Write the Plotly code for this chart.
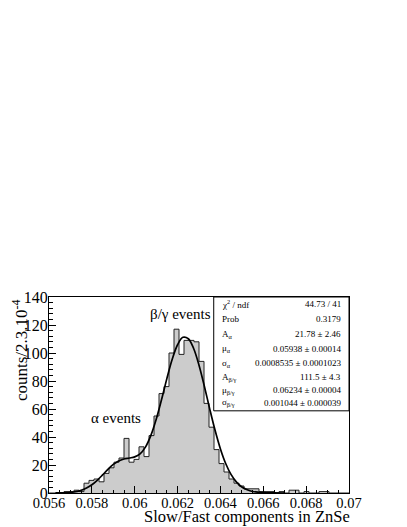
import plotly.graph_objects as go

# ---------------- data ----------------
x_lo, x_hi, n_bins = 0.056, 0.07, 60
counts = [0, 0, 0, 1, 1, 2, 1, 7, 9, 10,
          8, 14, 18, 22, 25, 39, 22, 24, 33, 26,
          41, 55, 71, 76, 100, 117, 99, 109, 109, 108,
          94, 64, 47, 31, 21, 15, 10, 7, 5, 3,
          3, 3, 1, 1, 1, 0, 1, 0, 2, 2,
          0, 1, 0, 0, 1, 1, 0, 0, 0, 0]

fit_x = [0.0563, 0.0565, 0.0570, 0.05725, 0.0575, 0.05775, 0.0580, 0.05825, 0.0585,
         0.05875, 0.0590, 0.05925, 0.0595, 0.05975, 0.0600, 0.06025, 0.0605, 0.06075,
         0.0610, 0.06125, 0.0615, 0.06175, 0.0620, 0.06225, 0.0625, 0.06275, 0.0630,
         0.06325, 0.0635, 0.06375, 0.0640, 0.06425, 0.0645, 0.06475, 0.0650, 0.06525,
         0.0655, 0.0660, 0.0665, 0.0670]
fit_y = [0.02, 0.07, 0.45, 0.97, 1.9, 3.5, 5.9, 9.1, 12.9,
         16.9, 20.4, 22.9, 24.3, 25.0, 25.8, 28.0, 32.8, 41.0,
         52.5, 66.6, 81.7, 95.5, 105.9, 111.2, 110.2, 103.2, 91.3,
         76.3, 60.1, 44.8, 31.5, 20.9, 13.1, 7.8, 4.3, 2.3,
         1.1, 0.24, 0.04, 0.0]

x_tick_vals = [0.056, 0.058, 0.060, 0.062, 0.064, 0.066, 0.068, 0.070]
x_tick_text = ["0.056", "0.058", "0.06", "0.062", "0.064", "0.066", "0.068", "0.07"]
y_tick_vals = [0, 20, 40, 60, 80, 100, 120, 140]

stat_labels = ["χ<sup>2</sup> / ndf", "Prob", "A<sub>α</sub>", "μ<sub>α</sub>", "σ<sub>α</sub>",
               "A<sub>β/γ</sub>", "μ<sub>β/γ</sub>", "σ<sub>β/γ</sub>"]
stat_values = ["44.73 / 41", "0.3179", "21.78 ± 2.46", "0.05938 ± 0.00014",
               "0.0008535 ± 0.0001023", "111.5 ± 4.3", "0.06234 ± 0.00004",
               "0.001044 ± 0.000039"]

# ---------------- geometry (page pixels) ----------------
W, H = 407, 527
OFF = 8                      # default page body margin
L, R, T, B = 49, 349.5, 297, 493.3
FONT = "Liberation Serif, Times New Roman, DejaVu Serif, serif"

def px(x):
    return (x - L) / (R - L)

def py(y):
    return (B - y) / (B - T)

bw = (x_hi - x_lo) / n_bins
edges = [x_lo + i * bw for i in range(n_bins + 1)]
step_y = counts + [counts[-1]]

fig = go.Figure()
fig.add_trace(go.Scatter(
    x=edges, y=step_y, mode="lines",
    line=dict(shape="hv", color="#222222", width=1),
    fill="tozeroy", fillcolor="#cccccc", hoverinfo="skip", showlegend=False))
fig.add_trace(go.Scatter(
    x=fit_x, y=fit_y, mode="lines",
    line=dict(shape="spline", color="black", width=1.7),
    showlegend=False))

axis_common = dict(showgrid=False, zeroline=False, showline=True, linecolor="black",
                   linewidth=1, mirror=True, ticks="inside", ticklen=7, tickcolor="black",
                   tickwidth=1)

fig.update_xaxes(range=[x_lo, x_hi], tickvals=x_tick_vals, ticktext=x_tick_text,
                 tickfont=dict(family=FONT, size=14.5, color="black"),
                 ticklabelstandoff=-3,
                 minor=dict(dtick=0.0005, tick0=0.056, ticks="inside", ticklen=3.5,
                            tickcolor="black", showgrid=False),
                 **axis_common)
fig.update_yaxes(range=[0, 140], tickvals=y_tick_vals,
                 tickfont=dict(family=FONT, size=16, color="black"),
                 ticklabelstandoff=-3,
                 minor=dict(dtick=4, tick0=0, ticks="inside", ticklen=3.5,
                            tickcolor="black", showgrid=False),
                 **axis_common)

annotations = [
    dict(text="counts/2.3.10<sup>-4</sup>", x=px(20), y=1.0, xref="paper", yref="paper",
         textangle=-90, xanchor="center", yanchor="top", showarrow=False,
         font=dict(family=FONT, size=17, color="black")),
    dict(text="Slow/Fast components in ZnSe", x=px(353), y=py(517), xref="paper", yref="paper",
         xanchor="right", yanchor="middle", showarrow=False,
         font=dict(family=FONT, size=16.5, color="black")),
    dict(text="α events", x=px(116), y=py(418), xref="paper", yref="paper",
         xanchor="center", yanchor="middle", showarrow=False,
         font=dict(family=FONT, size=15, color="black")),
    dict(text="β/γ events", x=px(181), y=py(314), xref="paper", yref="paper",
         xanchor="center", yanchor="middle", showarrow=False,
         font=dict(family=FONT, size=15, color="black")),
]

row_y = [304.5, 319.5, 334.5, 349, 363.5, 377.5, 390.5, 403]
for lab, val, yy in zip(stat_labels, stat_values, row_y):
    annotations.append(dict(text=lab, x=px(220.5), y=py(yy), xref="paper", yref="paper",
                            xanchor="left", yanchor="middle", showarrow=False,
                            font=dict(family=FONT, size=9, color="black")))
    annotations.append(dict(text=val, x=px(343.5), y=py(yy), xref="paper", yref="paper",
                            xanchor="right", yanchor="middle", showarrow=False,
                            font=dict(family=FONT, size=9, color="black")))

FW, FH = W - OFF, H - OFF
fig.update_layout(
    width=FW, height=FH,
    margin=dict(l=L - OFF, r=FW - (R - OFF), t=T - OFF, b=FH - (B - OFF), pad=0),
    paper_bgcolor="white", plot_bgcolor="white",
    font=dict(family=FONT, color="black"),
    annotations=annotations,
    shapes=[dict(type="rect", xref="paper", yref="paper", x0=px(214), x1=1.0,
                 y0=py(411), y1=1.0, fillcolor="white", line=dict(color="black", width=1),
                 layer="above")],
    showlegend=False,
)

fig.write_html("out.html")
